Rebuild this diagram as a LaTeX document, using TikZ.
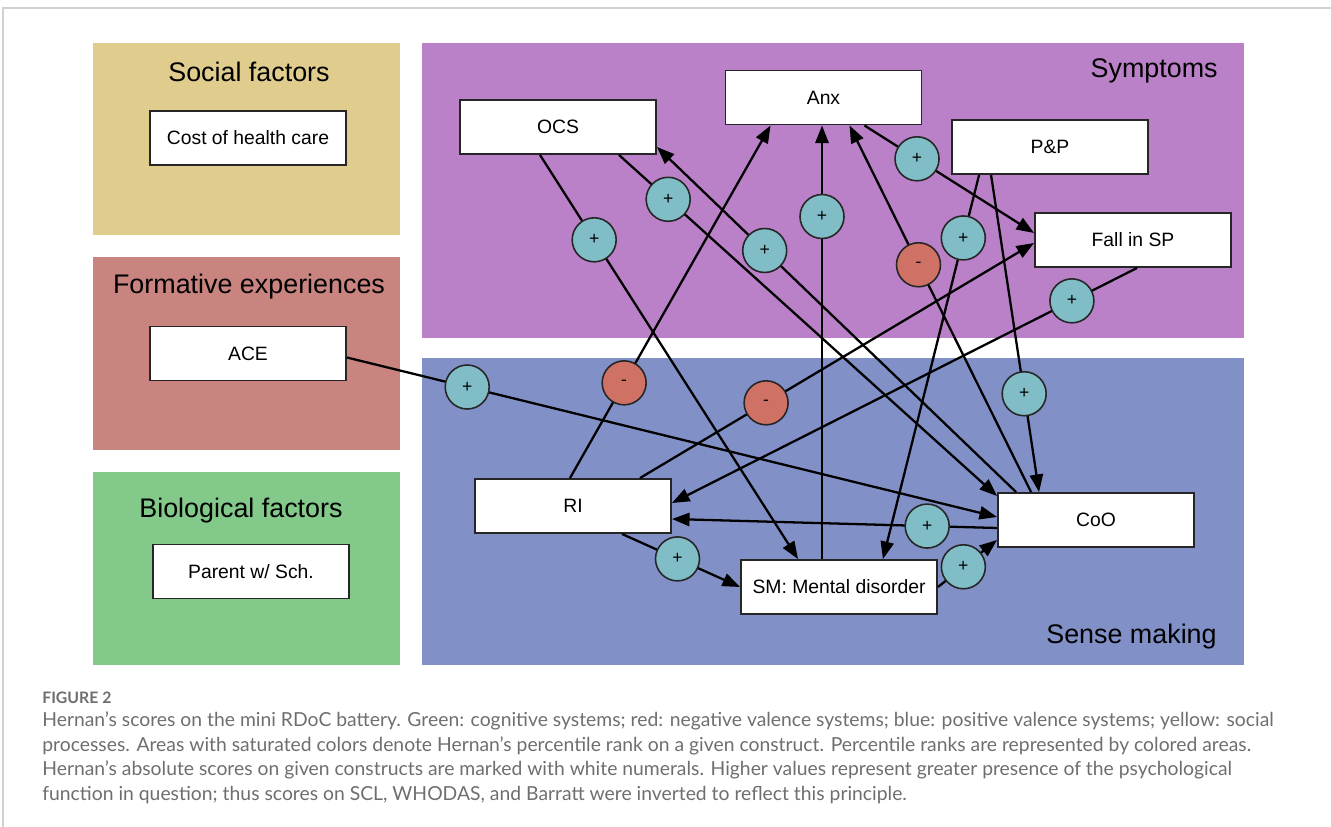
\documentclass[tikz,border=0pt]{standalone}
\usepackage{fontspec}
\setmainfont{Liberation Sans}
\newfontfamily\capfont{Lato}
\usetikzlibrary{arrows.meta}

\definecolor{socialfill}{HTML}{E0CD8E}
\definecolor{formfill}{HTML}{C98480}
\definecolor{biofill}{HTML}{82C98A}
\definecolor{symfill}{HTML}{BB81C8}
\definecolor{sensefill}{HTML}{8191C8}
\definecolor{posfill}{HTML}{80BDC6}
\definecolor{negfill}{HTML}{CF7265}
\definecolor{capgray}{HTML}{6E6E6E}
\definecolor{framegray}{HTML}{D0D0D0}

\begin{document}
\begin{tikzpicture}[x=0.02cm, y=-0.02cm,
    factorbox/.style={rectangle, draw=black!85, line width=1.1pt, fill=white, minimum width=3.92cm, minimum height=1.08cm, inner sep=0pt, font=\fontsize{11}{13}\selectfont},
    paneltitle/.style={inner sep=0pt, font=\fontsize{15.3}{18}\selectfont},
    signpos/.style={circle, draw=black!85, line width=0.9pt, fill=posfill, minimum size=0.88cm, inner sep=0pt, font=\fontsize{10}{12}\selectfont},
    signneg/.style={signpos, fill=negfill},
    link/.style={-{Triangle[length=10pt,width=7.5pt]}, line width=1.3pt}
]
\useasboundingbox (0,0) rectangle (1331,827);
% page frame
\draw[framegray, line width=1.1pt] (3,827) -- (3,8) -- (1331,8);

% Coloured panels
\fill[socialfill] (93,43) rectangle (400,235);
\fill[formfill] (93,257) rectangle (400,450);
\fill[biofill] (93,472) rectangle (400,665);
\fill[symfill] (422,43) rectangle (1244,338);
\fill[sensefill] (422,358) rectangle (1244,665);

\node[paneltitle, anchor=base] (socialtitle) at (249,82) {Social factors};
\node[paneltitle, anchor=base] (formtitle) at (249,294) {Formative experiences};
\node[paneltitle, anchor=base] (biotitle) at (241,517) {Biological factors};
\node[paneltitle, anchor=base east] (symtitle) at (1218,78) {Symptoms};
\node[paneltitle, anchor=base east] (sensetitle) at (1217,643) {Sense making};

% Factor boxes
\node[factorbox] (cost) at (248,138) {Cost of health care};
\node[factorbox] (ACE) at (248,353.5) {ACE};
\node[factorbox] (parent) at (251,571.5) {Parent w/ Sch.};
\node[factorbox] (OCS) at (558,127) {OCS};
\node[factorbox] (Anx) at (823.5,97.5) {Anx};
\node[factorbox] (PP) at (1050,147) {P\&P};
\node[factorbox] (FSP) at (1133,240) {Fall in SP};
\node[factorbox] (RI) at (573,506) {RI};
\node[factorbox] (SM) at (839,587) {SM: Mental disorder};
\node[factorbox] (CoO) at (1096,520) {CoO};

% Links
\draw[link] ([shift={(-18,0)}]OCS.south) -- coordinate[pos=0.21] (e1) ([shift={(-41,0)}]SM.north);
\draw[link] ([shift={(61,0)}]OCS.south) -- coordinate[pos=0.13] (e2) ([shift={(0,4)}]CoO.north west);
\draw[link] ([shift={(19,0)}]CoO.north west) -- coordinate[pos=0.70] (e3) ([shift={(0,-8)}]OCS.south east);
\draw[link] ([shift={(-17,0)}]SM.north) -- coordinate[pos=0.79] (e4) ([shift={(-1.5,0)}]Anx.south);
\draw[link] ([shift={(-58,0)}]Anx.south east) -- coordinate[pos=0.31] (e5) ([shift={(0,-7)}]FSP.west);
\draw[link] ([shift={(34,0)}]CoO.north west) -- coordinate[pos=0.62] (e6) ([shift={(26,0)}]Anx.south);
\draw[link] ([shift={(28,0)}]PP.south west) -- coordinate[pos=0.164] (e7) ([shift={(-55,0)}]SM.north east);
\draw[link] ([shift={(4,0)}]FSP.south) -- coordinate[pos=0.14] (e8) ([shift={(0,-3)}]RI.east);
\draw[link] ([shift={(40,0)}]PP.south west) -- coordinate[pos=0.69] (e9) ([shift={(42,0)}]CoO.north west);
\draw[link] ([shift={(0,4)}]ACE.east) -- coordinate[pos=0.185] (e10) ([shift={(0,-3)}]CoO.west);
\draw[link] ([shift={(-3,0)}]RI.north) -- coordinate[pos=0.27] (e11) ([shift={(46,0)}]Anx.south west);
\draw[link] ([shift={(67,0)}]RI.north) -- coordinate[pos=0.32] (e12) ([shift={(0,3)}]FSP.west);
\draw[link] ([shift={(49,0)}]RI.south) -- coordinate[pos=0.47] (e13) (SM.west);
\draw[link] ([shift={(0,8)}]CoO.west) -- coordinate[pos=0.215] (e14) ([shift={(0,13)}]RI.east);
\draw[link] (SM.east) -- coordinate[pos=0.43] (e15) ([shift={(0,20)}]CoO.west);

% Signs on the links
\node[signpos] (s1) at (e1) {+};
\node[signpos] (s2) at (e2) {+};
\node[signpos] (s3) at (e3) {+};
\node[signpos] (s4) at (e4) {+};
\node[signpos] (s5) at (e5) {+};
\node[signneg] (s6) at (e6) {-};
\node[signpos] (s7) at (e7) {+};
\node[signpos] (s8) at (e8) {+};
\node[signpos] (s9) at (e9) {+};
\node[signpos] (s10) at (e10) {+};
\node[signneg] (s11) at (e11) {-};
\node[signneg] (s12) at (e12) {-};
\node[signpos] (s13) at (e13) {+};
\node[signpos] (s14) at (e14) {+};
\node[signpos] (s15) at (e15) {+};

% Caption
\node[anchor=base west, inner sep=0pt, text=capgray, font=\capfont\bfseries\fontsize{9}{10}\selectfont] (figlabel) at (42,703) {FIGURE 2};
\node[anchor=base west, inner sep=0pt, text=capgray, align=left, font=\capfont\fontsize{11}{13.9}\selectfont] (caption) at (42,800)
  {Hernan’s scores on the mini RDoC battery. Green: cognitive systems; red: negative valence systems; blue: positive valence systems; yellow: social\\
   processes. Areas with saturated colors denote Hernan’s percentile rank on a given construct. Percentile ranks are represented by colored areas.\\
   Hernan’s absolute scores on given constructs are marked with white numerals. Higher values represent greater presence of the psychological\\
   function in question; thus scores on SCL, WHODAS, and Barratt were inverted to reflect this principle.};
\end{tikzpicture}
\end{document}
